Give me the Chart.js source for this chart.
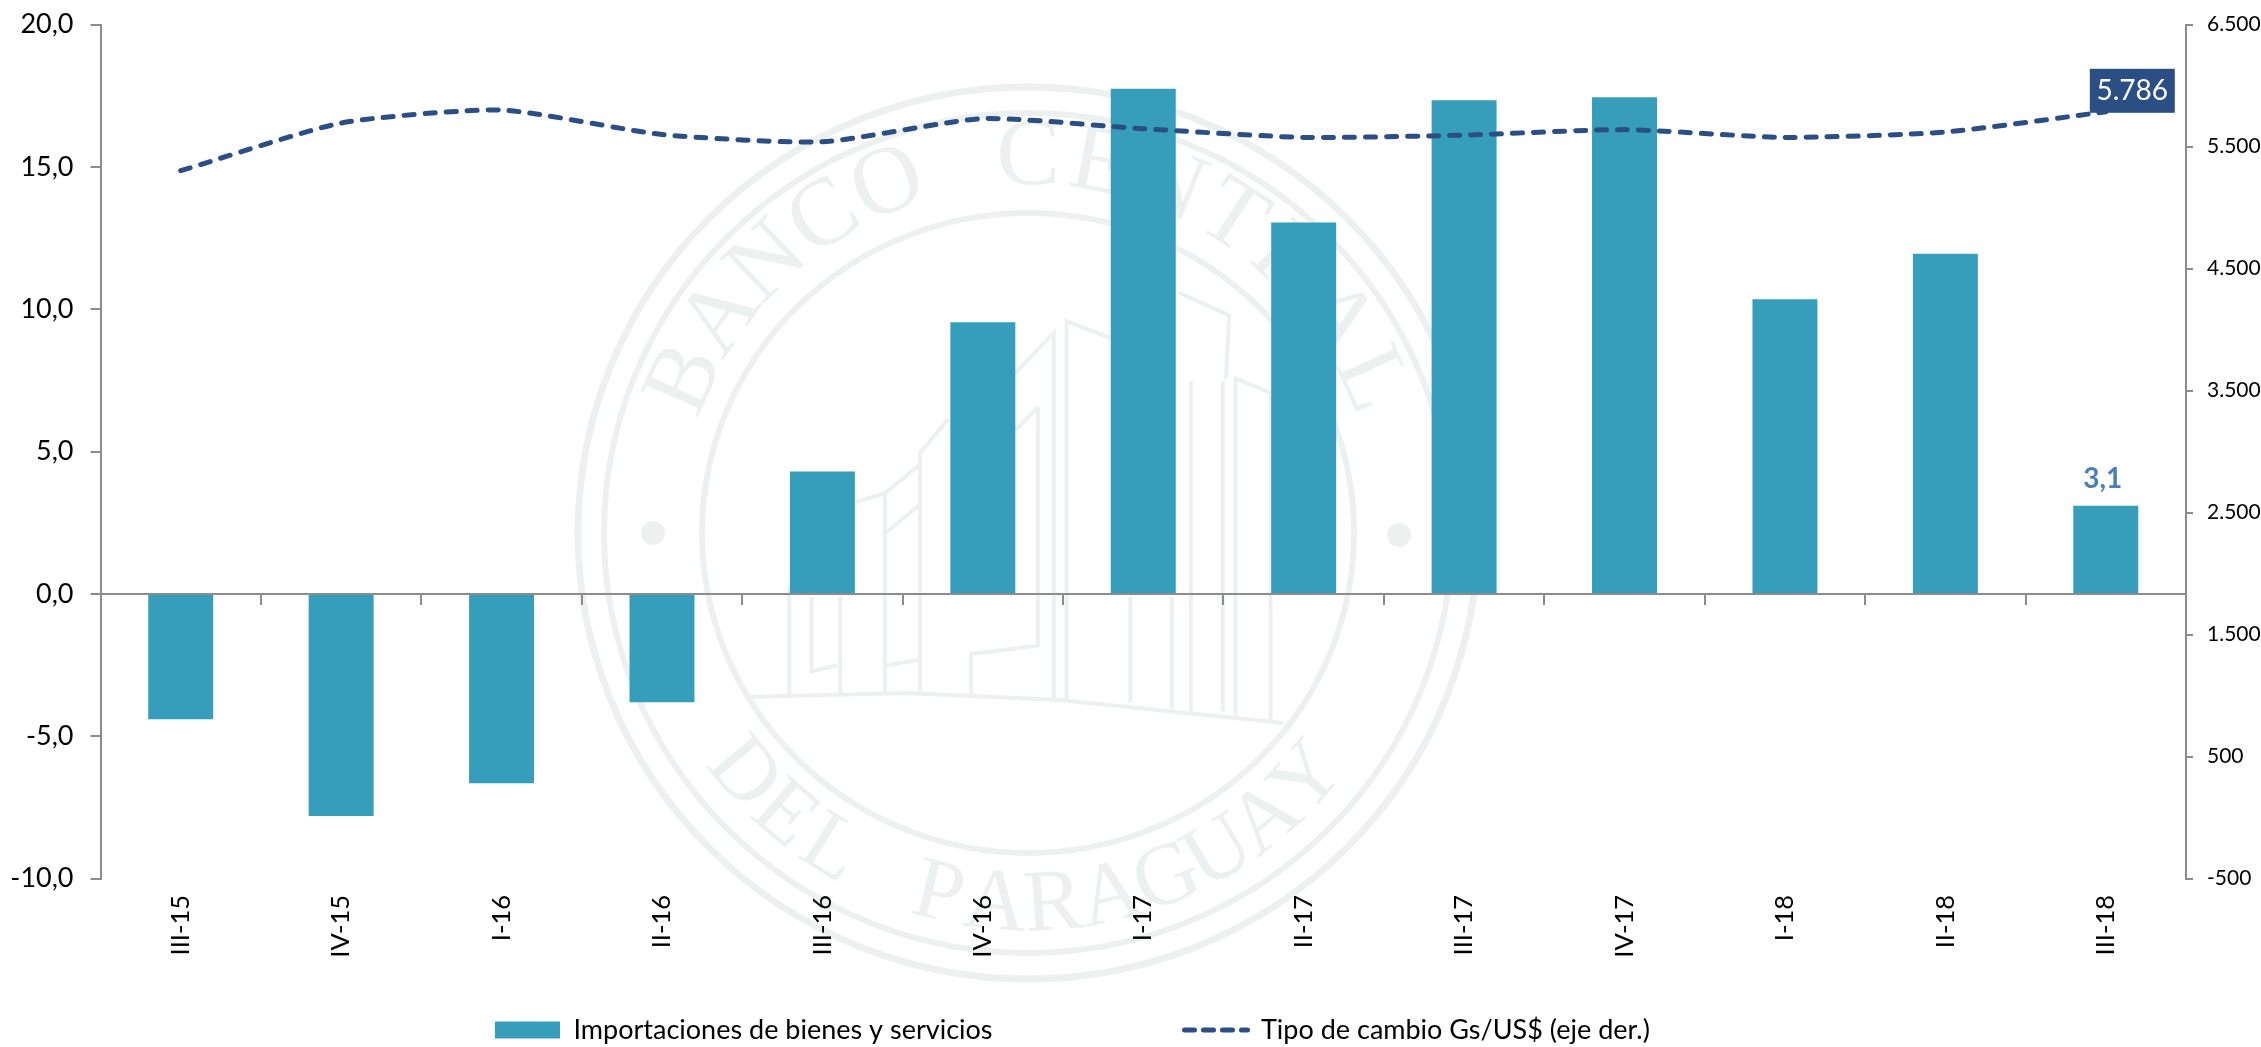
<!DOCTYPE html>
<html><head><meta charset="utf-8">
<style>html,body{margin:0;padding:0;background:#fff}canvas{display:block}</style>
<script src="https://cdn.jsdelivr.net/npm/chart.js@4"></script>
</head><body>
<canvas id="c" width="2261" height="1047"></canvas>
<script>
const categories = ['III-15','IV-15','I-16','II-16','III-16','IV-16','I-17','II-17','III-17','IV-17','I-18','II-18','III-18'];
const importaciones = [-4.4,-7.8,-6.65,-3.8,4.3,9.55,17.75,13.05,17.35,17.45,10.35,11.95,3.1];
const tipoCambio = [5303,5694,5800,5600,5540,5730,5647,5576,5595,5640,5576,5620,5786];
const serieBarras = 'Importaciones de bienes y servicios';
const serieLinea = 'Tipo de cambio Gs/US$ (eje der.)';
const etiquetaBarra = '3,1';
const etiquetaLinea = '5.786';

const FONT = 'Lato';
const BAR = '#369EBB', LINE = '#2B4F84', AXIS = '#8C8C8C', WM = '#ECF1F0';

const fmtL = v => v.toFixed(1).replace('.', ',');
const fmtR = v => { const a = Math.abs(v), s = a >= 1000 ? Math.floor(a/1000) + '.' + String(a%1000).padStart(3,'0') : String(a); return (v<0?'-':'') + s; };

// faint seal behind the chart (decoration, positions in page pixels)
const sealLines = [
 [[810,1080],[810,420],[880,450]],[[790,1080],[790,440],[730,510]],[[985,370],[1065,410],[1060,520]],
 [[1075,1115],[1075,520],[1130,545],[1130,1115]],[[1005,525],[1005,1100]],[[1055,525],[1055,1100]],
 [[765,570],[730,610]],[[765,570],[765,985],[660,1000],[660,1070]],[[525,720],[580,670]],[[525,790],[580,740]],
 [[525,1070],[525,720],[480,735]],[[580,1070],[580,650],[625,590]],[[375,880],[375,1070]],[[455,900],[455,1070]],
 [[410,900],[410,1030],[450,1020]],[[525,1020],[580,1010]],[[910,900],[910,1085]],[[975,900],[975,1095]],
 [[305,1075],[560,1068],[800,1080],[1150,1120]]
];
function arcText(ctx, text, cx, cy, r, a0, a1, outward) {
  const n = text.length;
  [...text].forEach((ch, i) => {
    const a = a0 + (a1 - a0) * i / (n - 1);
    ctx.save();
    ctx.translate(cx + r*Math.cos(a), cy + r*Math.sin(a));
    ctx.rotate(outward ? a + Math.PI/2 : a - Math.PI/2);
    ctx.fillText(ch, 0, 0);
    ctx.restore();
  });
}
const seal = { id:'seal', beforeDraw(chart) {
  const c = chart.ctx, cx = 1028, cy = 533;
  c.save();
  c.strokeStyle = WM; c.fillStyle = WM;
  [[450,446,7],[424,420,6],[326,320,6]].forEach(([rx,ry,w]) => {
    c.lineWidth = w; c.beginPath(); c.ellipse(cx,cy,rx,ry,0,0,Math.PI*2); c.stroke();
  });
  [[653,533],[1399,535]].forEach(([x,y]) => { c.beginPath(); c.arc(x,y,12,0,Math.PI*2); c.fill(); });
  c.lineWidth = 4;
  sealLines.forEach(p => { c.beginPath(); p.forEach(([x,y],i) => { const X = 550+x/1.568, Y = 80+y/1.742; i ? c.lineTo(X,Y) : c.moveTo(X,Y); }); c.stroke(); });
  c.font = '96px "Liberation Serif"'; c.textAlign = 'center'; c.textBaseline = 'middle';
  arcText(c, 'BANCO CENTRAL', cx, cy, 374, -2.72, -0.42, true);
  c.font = '88px "Liberation Serif"';
  arcText(c, 'DEL PARAGUAY', cx, cy, 374, 2.44, 0.72, false);
  c.restore();
}};

const legendPlace = { id:'legendPlace',
  afterLayout(chart) {
    const l = chart.legend, pad = l.options.labels.padding;
    l.left = 495 - pad; l.right = 2261; l.width = l.right - l.left;
    l.top = 1030 - 13.5 - pad; l.bottom = 1047; l.height = l.bottom - l.top;
    l.adjustHitBoxes();
  },
  afterDraw(chart) {
    const h = chart.legend.legendHitBoxes[1], c = chart.ctx, y = 1030;
    c.save();
    c.strokeStyle = LINE; c.lineWidth = 5; c.lineCap = 'round'; c.setLineDash([10,9]);
    c.beginPath(); c.moveTo(h.left + 2, y); c.lineTo(h.left + 65, y); c.stroke();
    c.restore();
  }
};

const valueLabels = { id:'valueLabels', afterDatasetsDraw(chart) {
  const c = chart.ctx, n = categories.length - 1;
  const bar = chart.getDatasetMeta(1).data[n], pt = chart.getDatasetMeta(0).data[n];
  c.save();
  c.textAlign = 'center'; c.textBaseline = 'middle';
  c.fillStyle = '#4A7EBB'; c.font = 'bold 28px ' + FONT;
  c.fillText(etiquetaBarra, bar.x - 3, bar.y - 27);
  c.fillStyle = LINE; c.fillRect(pt.x - 16, pt.y - 43, 85, 44);
  c.fillStyle = '#fff'; c.font = '28px ' + FONT;
  c.fillText(etiquetaLinea, pt.x + 26.5, pt.y - 21);
  c.restore();
}};

new Chart(document.getElementById('c'), {
  type: 'bar',
  data: { labels: categories, datasets: [
    { type:'line', label: serieLinea, data: tipoCambio, yAxisID:'y1', xAxisID:'x', order:1,
      borderColor: LINE, borderWidth: 5, borderDash:[10,11], borderCapStyle:'round',
      pointRadius:0, tension:0.2, fill:false },
    { type:'bar', label: serieBarras, data: importaciones, yAxisID:'y', xAxisID:'x', order:2,
      backgroundColor: BAR, borderWidth:0, barPercentage:0.405, categoryPercentage:1 }
  ]},
  options: {
    responsive:false, animation:false,
    layout:{ padding:{ left:0, right:0, top:24.7, bottom:128.4 } },
    plugins:{
      tooltip:{enabled:false},
      legend:{ display:true, position:'bottom', align:'start', maxHeight:40,
        labels:{ boxWidth:65, boxHeight:17, padding:190, color:'#000', font:{family:FONT,size:27},
          generateLabels: () => [
            { text: serieBarras, fillStyle: BAR, strokeStyle: BAR, lineWidth:0, datasetIndex:1 },
            { text: serieLinea, fillStyle:'transparent', strokeStyle:'transparent', lineWidth:0, datasetIndex:0 }
          ]
        }
      }
    },
    scales:{
      x:{ type:'category', position:{y:0}, offset:true,
        afterFit(s){ s.paddingLeft = 0; s.paddingRight = 0; s.paddingTop = 0; s.paddingBottom = 0; },
        border:{color:AXIS,width:2},
        grid:{ offset:true, drawOnChartArea:false, drawTicks:true, tickLength:10, color:AXIS, lineWidth:2 },
        ticks:{ autoSkip:false, minRotation:90, maxRotation:90, padding:291, color:'#000', font:{family:FONT,size:25.5} }
      },
      y:{ position:'left', min:-10, max:20, afterFit(s){ s.width = 100.5; s.paddingTop = 0; s.paddingBottom = 0; },
        border:{color:AXIS,width:2},
        grid:{ drawOnChartArea:false, tickLength:10, color:AXIS, lineWidth:2 },
        ticks:{ stepSize:5, padding:17, color:'#000', font:{family:FONT,size:27}, callback:fmtL }
      },
      y1:{ position:'right', min:-500, max:6500, afterFit(s){ s.width = 75; s.paddingTop = 0; s.paddingBottom = 0; },
        border:{color:AXIS,width:2},
        grid:{ drawOnChartArea:false, tickLength:7, color:AXIS, lineWidth:2 },
        ticks:{ stepSize:1000, padding:14, color:'#000', font:{family:FONT,size:21}, callback:fmtR }
      }
    }
  },
  plugins:[seal, legendPlace, valueLabels]
});
</script>
</body></html>
